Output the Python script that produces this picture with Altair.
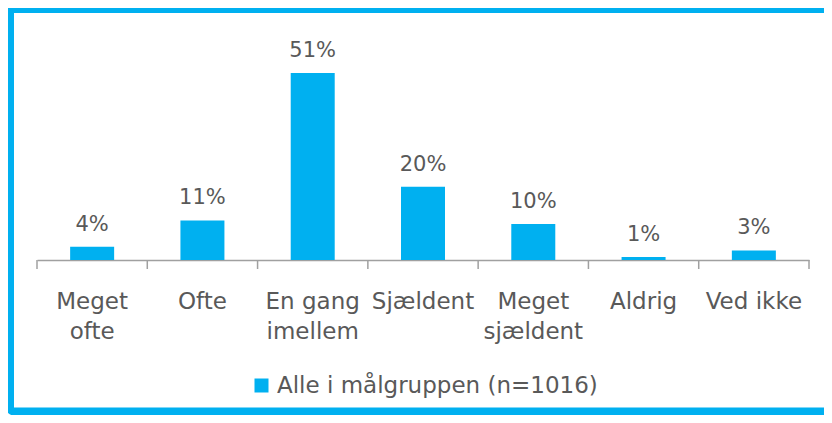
import altair as alt
import pandas as pd

categories = ["Meget ofte", "Ofte", "En gang imellem", "Sjældent", "Meget sjældent", "Aldrig", "Ved ikke"]
values = [3.6, 10.8, 51, 20, 9.8, 0.8, 2.6]
labels = ["4%", "11%", "51%", "20%", "10%", "1%", "3%"]
series = "Alle i målgruppen (n=1016)"

df = pd.DataFrame({"cat": categories, "val": values, "lab": labels, "series": [series] * len(categories)})

BLUE = "#00B0F0"
GRAY_TXT = "#595959"
GRAY_AX = "#A0A0A0"
FONT = "DejaVu Sans"

label_expr = (
    "datum.value == 'Meget ofte' ? ['Meget', 'ofte'] : "
    "datum.value == 'En gang imellem' ? ['En gang', 'imellem'] : "
    "datum.value == 'Meget sjældent' ? ['Meget', 'sjældent'] : datum.label"
)

xaxis = alt.Axis(labelAngle=0, ticks=False, tickSize=0, labelPadding=48,
                 labelBaseline="alphabetic", labelLineHeight=30,
                 labelExpr=label_expr,
                 labelFont=FONT, labelFontSize=23, labelColor=GRAY_TXT,
                 domainColor=GRAY_AX, domainWidth=1.5, labelLimit=200, title=None)

xscale = alt.Scale(paddingInner=0, paddingOuter=0)
yscale = alt.Scale(domain=[0, 60])

base = alt.Chart(df)

bars = base.mark_bar(size=44).encode(
    x=alt.X("cat:N", sort=categories, scale=xscale, title=None, axis=xaxis),
    y=alt.Y("val:Q", scale=yscale, axis=None),
    color=alt.Color("series:N", scale=alt.Scale(range=[BLUE]),
                    legend=alt.Legend(title=None, orient="none", legendX=213, legendY=334,
                                      symbolType="square", symbolSize=196, symbolStrokeWidth=0,
                                      labelFont=FONT, labelFontSize=23, labelColor=GRAY_TXT,
                                      labelLimit=500)),
)

text = base.mark_text(baseline="alphabetic", dy=-16, font=FONT, fontSize=21, color=GRAY_TXT).encode(
    x=alt.X("cat:N", sort=categories, scale=xscale, title=None, axis=xaxis),
    y=alt.Y("val:Q", scale=yscale, axis=None),
    text="lab:N",
)

ticks = base.mark_rule(color=GRAY_AX, strokeWidth=1.5).encode(
    x=alt.X("cat:N", sort=categories, scale=xscale, bandPosition=0, title=None, axis=xaxis),
    y=alt.value(220),
    y2=alt.value(229),
)

last_tick = base.transform_filter(
    alt.datum.cat == categories[-1]
).mark_rule(color=GRAY_AX, strokeWidth=1.5).encode(
    x=alt.X("cat:N", sort=categories, scale=xscale, bandPosition=1, title=None, axis=xaxis),
    y=alt.value(220),
    y2=alt.value(229),
)

frame = alt.Chart(pd.DataFrame({"a": [0]})).mark_rect(
    fill=None, stroke=BLUE, strokeWidth=8, cornerRadius=4
).encode(
    x=alt.value(-27), x2=alt.value(820),
    y=alt.value(-31), y2=alt.value(371.5),
)

chart = alt.layer(frame, bars, text, ticks, last_tick).properties(
    width=772, height=220,
    autosize=alt.AutoSizeParams(type="none"),
    padding={"left": 29, "top": 32, "right": 15, "bottom": 155},
    background="white",
).configure_view(stroke=None)

chart.save("out.html", embed_options={"renderer": "svg", "actions": False})
